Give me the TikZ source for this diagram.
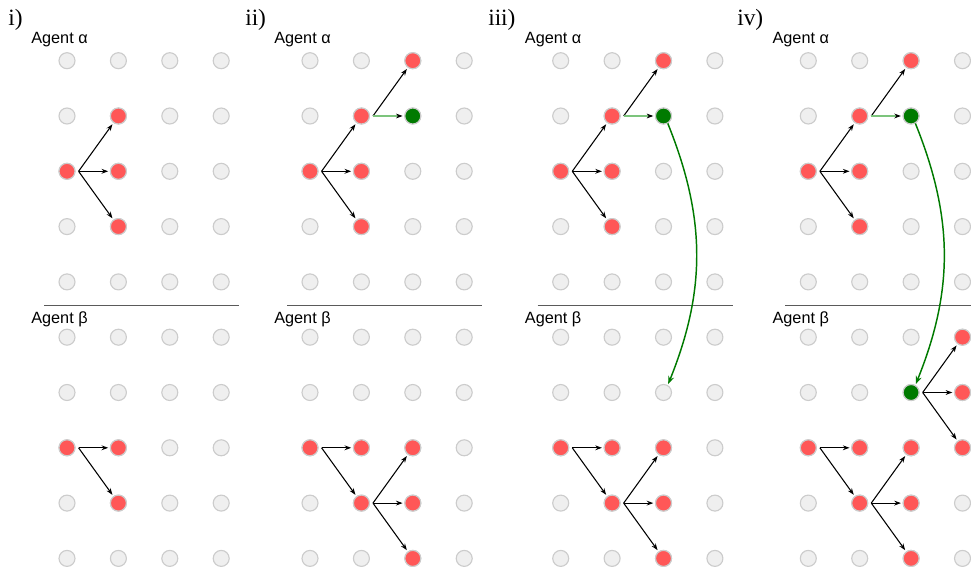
\documentclass[tikz,border=0pt]{standalone}
\usepackage{fontspec}
\setmainfont{Liberation Serif}
\setsansfont{Liberation Sans}
\usetikzlibrary{arrows.meta}
\definecolor{dotgrey}{HTML}{EFEFEF}
\definecolor{dotborder}{HTML}{CCCCCC}
\definecolor{dotred}{HTML}{FF5757}
\definecolor{dotgreen}{HTML}{007A00}
\definecolor{lgreen}{HTML}{7CC47C}
\definecolor{sepgrey}{HTML}{5A5A5A}
\newcommand\rdot[3]{\node[rdot] (q#1-#2-#3) at (p#1-#2-#3) {};}
\newcommand\gdotn[3]{\node[gndot] (q#1-#2-#3) at (p#1-#2-#3) {};}
\newcommand\arr[2]{\draw[blk] ([xshift=2.25pt]#1.east) -- (#2);}
\newcommand\garr[2]{\draw[grn] ([xshift=2.25pt]#1.east) -- (#2);}
\begin{document}
\begin{tikzpicture}[x=0.75pt,y=-0.75pt,
  dotbase/.style={circle,minimum size=12pt,inner sep=0pt,line width=0.85pt,draw=dotborder},
  gdot/.style={dotbase,fill=dotgrey},
  rdot/.style={dotbase,fill=dotred},
  gndot/.style={dotbase,fill=dotgreen},
  blk/.style={draw=black,line width=0.8pt,shorten >=1.2pt,-{Stealth[length=5pt,width=3.6pt]}},
  grn/.style={draw=lgreen,line width=1pt,shorten >=1.2pt,-{Stealth[length=5pt,width=3.6pt,black]}},
  curve/.style={draw=dotgreen,line width=1.1pt,shorten >=0.8pt,-{Stealth[length=6pt,width=4.5pt]}},
  hdr/.style={font=\fontsize{17.5}{17.5}\selectfont,anchor=base west,inner sep=0pt},
  agent/.style={font=\sffamily\fontsize{12.2}{12.2}\selectfont,anchor=base west,inner sep=0pt},
  sep/.style={draw=sepgrey,line width=1pt}]
\useasboundingbox (0,0) rectangle (971,570);
\foreach \p/\xo/\hx/\lab in {1/67/8/i),2/310/245/ii),3/560.7/488/iii),4/808.3/737/iv)}{
  \node[hdr] (h\p) at (\hx,26) {\lab};
  \node[agent] (a\p) at (\xo-36,43.3) {Agent α};
  \node[agent] (b\p) at (\xo-36,323.5) {Agent β};
  \draw[sep] (\xo-23,305.7) -- (\xo+172,305.7);
  \foreach \c in {1,...,4}{
    \foreach \r in {1,...,10}{
      \node[gdot] (p\p-\c-\r) at ({\xo+51.4*(\c-1)},{60.7+55.3*(\r-1)}) {};
    }
  }
}
% ---------- panel i
\rdot{1}{1}{3}\rdot{1}{2}{2}\rdot{1}{2}{3}\rdot{1}{2}{4}
\rdot{1}{1}{8}\rdot{1}{2}{8}\rdot{1}{2}{9}
\arr{q1-1-3}{q1-2-2}\arr{q1-1-3}{q1-2-3}\arr{q1-1-3}{q1-2-4}
\arr{q1-1-8}{q1-2-8}\arr{q1-1-8}{q1-2-9}
% ---------- panels ii, iii, iv (shared part)
\foreach \p in {2,3,4}{
  \rdot{\p}{1}{3}\rdot{\p}{2}{2}\rdot{\p}{2}{3}\rdot{\p}{2}{4}\rdot{\p}{3}{1}
  \gdotn{\p}{3}{2}
  \rdot{\p}{1}{8}\rdot{\p}{2}{8}\rdot{\p}{2}{9}\rdot{\p}{3}{8}\rdot{\p}{3}{9}\rdot{\p}{3}{10}
  \arr{q\p-1-3}{q\p-2-2}\arr{q\p-1-3}{q\p-2-3}\arr{q\p-1-3}{q\p-2-4}
  \arr{q\p-2-2}{q\p-3-1}
  \garr{q\p-2-2}{q\p-3-2}
  \arr{q\p-1-8}{q\p-2-8}\arr{q\p-1-8}{q\p-2-9}
  \arr{q\p-2-9}{q\p-3-8}\arr{q\p-2-9}{q\p-3-9}\arr{q\p-2-9}{q\p-3-10}
}
% ---------- panel iii
\draw[curve] (q3-3-2.-60) to[bend left=22] (p3-3-7.60);
% ---------- panel iv
\gdotn{4}{3}{7}
\rdot{4}{4}{6}\rdot{4}{4}{7}\rdot{4}{4}{8}
\arr{q4-3-7}{q4-4-6}\arr{q4-3-7}{q4-4-7}\arr{q4-3-7}{q4-4-8}
\draw[curve] (q4-3-2.-60) to[bend left=22] (q4-3-7.60);
\end{tikzpicture}
\end{document}
